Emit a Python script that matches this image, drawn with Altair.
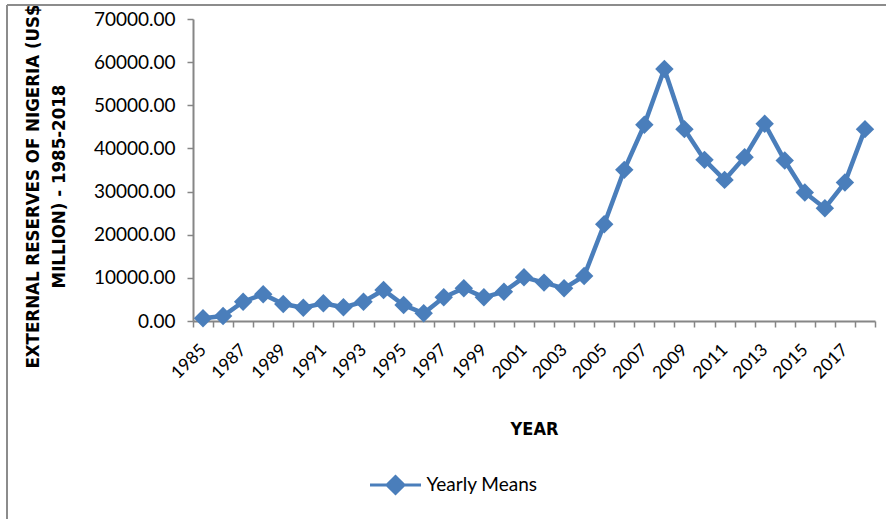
import altair as alt
import pandas as pd

# Nigeria external reserves, yearly means (US$ million)
years = [1985, 1986, 1987, 1988, 1989, 1990, 1991, 1992, 1993, 1994, 1995, 1996,
         1997, 1998, 1999, 2000, 2001, 2002, 2003, 2004, 2005, 2006, 2007, 2008,
         2009, 2010, 2011, 2012, 2013, 2014, 2015, 2016, 2017, 2018]
reserves = [630, 1160, 4480, 6190, 3940, 3090, 4100, 3170, 4480, 7190, 3710, 1780,
            5490, 7580, 5490, 6800, 10130, 8900, 7580, 10440, 22430, 35030, 45470, 58400,
            44470, 37350, 32710, 37970, 45700, 37200, 29770, 26150, 32100, 44470]
series_name = "Yearly Means"
y_ticks = [0, 10000, 20000, 30000, 40000, 50000, 60000, 70000]

df = pd.DataFrame({"year": years, "reserves": reserves, "series": series_name})

BLUE = "#4A7EBB"
AXIS_GRAY = "#868686"
FRAME_GRAY = "#8C8C8C"
LABEL_FONT = "Lato"
TITLE_FONT = "Liberation Sans Narrow, DejaVu Sans Condensed, sans-serif"

W, H = 682, 302
LEFT, TOP = 193, 19

x_enc = alt.X(
    "year:O",
    bandPosition=0.5,
    scale=alt.Scale(type="band", paddingInner=0, paddingOuter=0),
    axis=alt.Axis(
        title="YEAR",
        titleFont=TITLE_FONT, titleFontSize=18, titleFontWeight="bold", titleColor="#000000",
        titleY=108, titleBaseline="middle",
        labelExpr="(toNumber(datum.value) - 1985) % 2 == 0 ? datum.label : ''",
        labelAngle=-45, labelAlign="right", labelBaseline="middle",
        labelFont=LABEL_FONT, labelFontSize=17.5, labelColor="#000000", labelPadding=20,
        labelOverlap=False, labelBound=False,
        tickBand="extent", tickSize=6, tickColor=AXIS_GRAY, tickWidth=1.5,
        domainColor=AXIS_GRAY, domainWidth=2, grid=False,
    ),
)
y_enc = alt.Y(
    "reserves:Q",
    scale=alt.Scale(domain=[0, 70000], nice=False),
    axis=alt.Axis(
        title=["EXTERNAL RESERVES OF NIGERIA (US$", "MILLION) - 1985-2018"],
        titleFont=TITLE_FONT, titleFontSize=18.5, titleFontWeight="bold", titleColor="#000000",
        titleAngle=-90, titleAlign="center", titleBaseline="top", titleLineHeight=26,
        titleX=-170, titleY=167,
        values=y_ticks, format=".2f",
        labelFont=LABEL_FONT, labelFontSize=19, labelColor="#000000", labelPadding=12,
        tickSize=6, tickColor=AXIS_GRAY, tickWidth=1.5,
        domainColor=AXIS_GRAY, domainWidth=2, grid=False,
    ),
)

legend_symbol = "M-3,0L3,0M-1,0L0,-1L1,0L0,1Z"

line = alt.Chart(df).mark_line(strokeWidth=4.5, color=BLUE).encode(
    x=x_enc,
    y=y_enc,
    color=alt.Color(
        "series:N",
        scale=alt.Scale(range=[BLUE]),
        legend=alt.Legend(
            title=None, orient="none", legendX=175 + 26 - 8.5, legendY=456,
            symbolType=legend_symbol, symbolSize=289, symbolStrokeWidth=3,
            symbolFillColor=BLUE, symbolStrokeColor=BLUE,
            labelFont=LABEL_FONT, labelFontSize=19, labelColor="#000000", labelOffset=21,
        ),
    ),
)

points = alt.Chart(df).mark_point(
    shape="diamond", filled=True, size=340, opacity=1, color=BLUE
).encode(x=x_enc, y=y_enc)

# Outer chart frame (left and top edges)
frame_left = alt.Chart(df).mark_rule(color=FRAME_GRAY, strokeWidth=2).encode(
    x=alt.value(7 - LEFT), y=alt.value(5 - TOP), y2=alt.value(519 - TOP)
)
frame_top = alt.Chart(df).mark_rule(color=FRAME_GRAY, strokeWidth=2).encode(
    x=alt.value(7 - LEFT), x2=alt.value(886 - LEFT), y=alt.value(5 - TOP)
)

chart = (
    alt.layer(frame_left, frame_top, line, points)
    .properties(
        width=W, height=H,
        autosize=alt.AutoSizeParams(type="none"),
        padding={"left": LEFT, "top": TOP, "right": 886 - LEFT - W, "bottom": 519 - TOP - H},
        background="#FFFFFF",
    )
    .configure_view(stroke=None)
)

chart.save("out.html", embed_options={"renderer": "svg", "actions": False})
